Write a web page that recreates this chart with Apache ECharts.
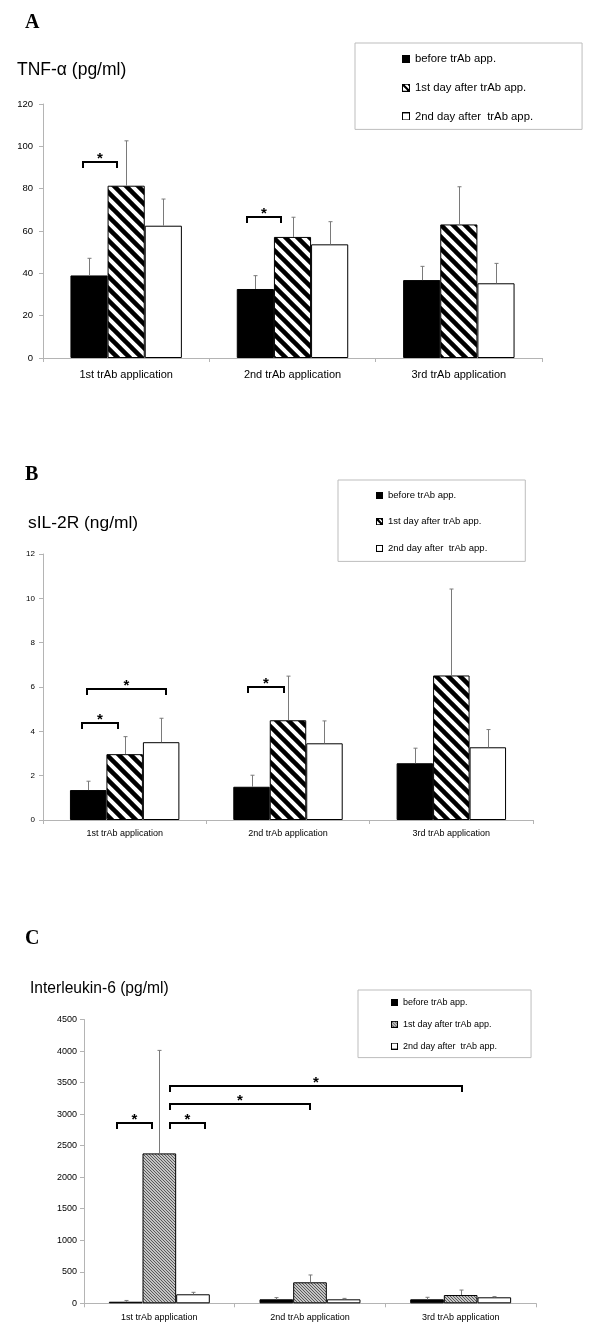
<!DOCTYPE html>
<html>
<head>
<meta charset="utf-8">
<script src="https://cdn.jsdelivr.net/npm/echarts@6/dist/echarts.min.js"></script>
<style>
html, body { margin: 0; padding: 0; background: #fff; }
#chart { width: 600px; height: 1332px; }
</style>
</head>
<body>
<div id="chart"></div>
<script>
var categories = ['1st trAb application', '2nd trAb application', '3rd trAb application'];
var seriesNames = ['before trAb app.', '1st day after trAb app.', '2nd day after  trAb app.'];

// A: TNF-alpha (pg/ml), means and upper error
var tnfBefore = [39.0, 32.6, 36.8];
var tnfDay1 = [81.4, 57.2, 63.1];
var tnfDay2 = [62.5, 53.7, 35.3];
var tnfBeforeErr = [8.1, 6.3, 6.5];
var tnfDay1Err = [21.2, 9.3, 17.8];
var tnfDay2Err = [12.6, 10.7, 9.4];
var tnfTicks = [0, 20, 40, 60, 80, 100, 120];

// B: sIL-2R (ng/ml)
var il2Before = [1.35, 1.50, 2.56];
var il2Day1 = [2.97, 4.50, 6.52];
var il2Day2 = [3.51, 3.46, 3.28];
var il2BeforeErr = [0.40, 0.52, 0.68];
var il2Day1Err = [0.79, 1.99, 3.90];
var il2Day2Err = [1.08, 1.01, 0.80];
var il2Ticks = [0, 2, 4, 6, 8, 10, 12];

// C: Interleukin-6 (pg/ml)
var il6Before = [25, 63, 63];
var il6Day1 = [2377, 333, 131];
var il6Day2 = [143, 63, 95];
var il6BeforeErr = [20, 27, 32];
var il6Day1Err = [1633, 116, 79];
var il6Day2Err = [31, 15, 11];
var il6Ticks = [0, 500, 1000, 1500, 2000, 2500, 3000, 3500, 4000, 4500];

// significance brackets: [fromCat, fromSlot, toCat, toSlot, level]
var tnfSig = [[0, 0.34, 0, 1.24, 92.7], [1, 0.28, 1, 1.18, 66.7]];
var il2Sig = [[0, 0.34, 0, 1.32, 4.39], [0, 0.48, 0, 2.63, 5.89], [1, 0.40, 1, 1.38, 5.98]];
var il6Sig = [[0, 0.24, 0, 1.28, 2853], [0, 1.81, 0, 2.86, 2853], [0, 1.81, 1, 1.49, 3154], [0, 1.81, 2, 1.54, 3444]];

function stripes() {
    var s = 12, c = document.createElement('canvas');
    c.width = s; c.height = s;
    var g = c.getContext('2d');
    g.fillStyle = '#fff'; g.fillRect(0, 0, s, s);
    g.strokeStyle = '#000'; g.lineWidth = 4.5;
    for (var i = -1; i <= 1; i++) {
        g.beginPath(); g.moveTo(i * s - s, -s); g.lineTo(i * s + 2 * s, 2 * s); g.stroke();
    }
    return c;
}
function fineHatch() {
    var s = 3, c = document.createElement('canvas');
    c.width = s; c.height = s;
    var g = c.getContext('2d');
    g.fillStyle = '#c4c4c4'; g.fillRect(0, 0, s, s);
    g.fillStyle = '#5a5a5a';
    for (var i = 0; i < s; i++) g.fillRect(i, i, 1, 1);
    return c;
}
// small legend icons, drawn pixel by pixel
function legendIcon(kind, n) {
    var c = document.createElement('canvas');
    c.width = n; c.height = n;
    var g = c.getContext('2d');
    g.fillStyle = kind === 'grey' ? '#bdbdbd' : '#fff';
    g.fillRect(0, 0, n, n);
    g.fillStyle = '#000';
    if (kind === 'black') g.fillRect(0, 0, n, n);
    if (kind === 'stripe') {
        for (var y = 0; y < n; y++) for (var x = 0; x < n; x++) {
            if (Math.abs(x - y) <= 1 || x - y >= n - 3) g.fillRect(x, y, 1, 1);
        }
    }
    if (kind === 'grey') {
        g.fillStyle = '#666';
        for (var y2 = 0; y2 < n; y2++) for (var x2 = 0; x2 < n; x2++) {
            if ((x2 - y2 + 9) % 3 === 0) g.fillRect(x2, y2, 1, 1);
        }
        g.fillStyle = '#000';
    }
    g.fillRect(0, 0, n, 1); g.fillRect(0, n - 1, n, 1);
    g.fillRect(0, 0, 1, n); g.fillRect(n - 1, 0, 1, n);
    return 'image://' + c.toDataURL();
}

var blackFill = '#000', whiteFill = '#fff';
var stripeFill = { image: stripes(), repeat: 'repeat' };
var greyFill = { image: fineHatch(), repeat: 'repeat' };

var panels = [
    { key: 'A', title: 'TNF-α (pg/ml)', values: [tnfBefore, tnfDay1, tnfDay2], errs: [tnfBeforeErr, tnfDay1Err, tnfDay2Err],
      ticks: tnfTicks, sig: tnfSig, fills: [blackFill, stripeFill, whiteFill], icons: ['black', 'stripe', 'white'],
      grid: { left: 43, right: 58, top: 104, bottom: 974 },
      tickFont: 9.5, tickMargin: 10, catFont: 11, catMargin: 11,
      letter: { left: 25, top: 13 }, head: { left: 17, top: 61, size: 17.5 },
      legend: { left: 355, top: 43, font: 11.3, lh: 14, gap: 14.7, pad: [9, 49, 6, 47], icon: 8 } },
    { key: 'B', title: 'sIL-2R (ng/ml)', values: [il2Before, il2Day1, il2Day2], errs: [il2BeforeErr, il2Day1Err, il2Day2Err],
      ticks: il2Ticks, sig: il2Sig, fills: [blackFill, stripeFill, whiteFill], icons: ['black', 'stripe', 'white'],
      grid: { left: 43, right: 67, top: 554, bottom: 512 },
      tickFont: 8, tickMargin: 8, catFont: 9, catMargin: 9,
      letter: { left: 25, top: 465 }, head: { left: 28, top: 514, size: 17.4 },
      legend: { left: 338, top: 480, font: 9.5, lh: 12, gap: 14.7, pad: [9, 38, 7, 38], icon: 7 } },
    { key: 'C', title: 'Interleukin-6 (pg/ml)', values: [il6Before, il6Day1, il6Day2], errs: [il6BeforeErr, il6Day1Err, il6Day2Err],
      ticks: il6Ticks, sig: il6Sig, fills: [blackFill, greyFill, whiteFill], icons: ['black', 'grey', 'white'],
      grid: { left: 84, right: 64, top: 1019.5, bottom: 28.7 },
      tickFont: 9, tickMargin: 7, catFont: 9, catMargin: 10,
      letter: { left: 25, top: 929 }, head: { left: 30, top: 979.5, size: 15.6 },
      legend: { left: 358, top: 990, font: 9, lh: 11, gap: 10.8, pad: [7, 34, 6, 33], icon: 7 } }
];

var axisGrey = '#b4b4b4';
var font = 'Liberation Sans';

function errRender(params, api) {
    var cat = api.value(0), k = api.value(1), v = api.value(2), e = api.value(3);
    var bw = api.size([1, 0])[0] * (1 - 0.33) / 3;
    var base = api.coord([cat, v]);
    var top = api.coord([cat, v + e]);
    var x = Math.round(base[0] + (k - 1) * bw) + 0.5;
    var st = { stroke: '#7a7a7a', lineWidth: 1 };
    return { type: 'group', children: [
        { type: 'line', shape: { x1: x, y1: base[1], x2: x, y2: top[1] }, style: st },
        { type: 'line', shape: { x1: x - 2, y1: top[1], x2: x + 2, y2: top[1] }, style: st }
    ] };
}

function sigRender(params, api) {
    var bw = api.size([1, 0])[0] * (1 - 0.33) / 3;
    var lvl = api.value(4);
    var p0 = api.coord([api.value(0), lvl]);
    var p1 = api.coord([api.value(2), lvl]);
    var x0 = Math.round(p0[0] + (api.value(1) - 1.5) * bw);
    var x1 = Math.round(p1[0] + (api.value(3) - 1.5) * bw);
    var y = Math.round(p0[1]);
    return { type: 'group', children: [
        { type: 'polyline', shape: { points: [[x0, y + 6], [x0, y], [x1, y], [x1, y + 6]] },
          style: { stroke: '#000', lineWidth: 2, fill: null } },
        { type: 'text', x: (x0 + x1) / 2, y: y - 3,
          style: { text: '*', font: 'bold 15px Liberation Sans', fill: '#000',
                   textAlign: 'center', textVerticalAlign: 'middle', align: 'center', verticalAlign: 'middle' } }
    ] };
}

var option = { animation: false, title: [], legend: [], grid: [], xAxis: [], yAxis: [], series: [] };

panels.forEach(function (p, pi) {
    option.title.push({ text: p.key, left: p.letter.left, top: p.letter.top, padding: 0,
        textStyle: { fontFamily: 'Liberation Serif', fontWeight: 'bold', fontSize: 20, lineHeight: 20, color: '#000' } });
    option.title.push({ text: p.title, left: p.head.left, top: p.head.top, padding: 0,
        textStyle: { fontFamily: font, fontWeight: 'normal', fontSize: p.head.size, lineHeight: 18, color: '#000' } });

    option.grid.push({ left: p.grid.left, right: p.grid.right, top: p.grid.top, bottom: p.grid.bottom,
        containLabel: false, outerBoundsMode: 'none' });

    option.xAxis.push({ type: 'category', gridIndex: pi, data: categories,
        axisLine: { lineStyle: { color: axisGrey, width: 1 } },
        axisTick: { show: true, length: 4, lineStyle: { color: axisGrey } },
        axisLabel: { color: '#000', fontFamily: font, fontSize: p.catFont, margin: p.catMargin, interval: 0 } });

    var tmax = p.ticks[p.ticks.length - 1];
    option.yAxis.push({ type: 'value', gridIndex: pi, min: p.ticks[0], max: tmax, interval: p.ticks[1] - p.ticks[0],
        splitLine: { show: false },
        axisLine: { show: true, lineStyle: { color: axisGrey, width: 1 } },
        axisTick: { show: true, length: 4, lineStyle: { color: axisGrey } },
        axisLabel: { color: '#000', fontFamily: font, fontSize: p.tickFont, margin: p.tickMargin,
                     formatter: function (v) { return String(v); } } });

    var legendData = [];
    var errData = [];
    p.values.forEach(function (vals, k) {
        var nm = p.key + '|' + seriesNames[k];
        legendData.push({ name: nm, icon: legendIcon(p.icons[k], p.legend.icon) });
        option.series.push({ type: 'bar', name: nm, xAxisIndex: pi, yAxisIndex: pi, data: vals,
            barGap: '0%', barCategoryGap: '33%',
            itemStyle: { color: p.fills[k], borderColor: '#000', borderWidth: 1 } });
        vals.forEach(function (v, c) { errData.push([c, k, v, p.errs[k][c]]); });
    });
    option.series.push({ type: 'custom', name: p.key + '-err', xAxisIndex: pi, yAxisIndex: pi,
        renderItem: errRender, data: errData, z: 5, silent: true });
    option.series.push({ type: 'custom', name: p.key + '-sig', xAxisIndex: pi, yAxisIndex: pi,
        renderItem: sigRender, data: p.sig, z: 6, silent: true, clip: false });

    option.legend.push({ data: legendData, orient: 'vertical', left: p.legend.left, top: p.legend.top,
        padding: p.legend.pad, itemGap: p.legend.gap, itemWidth: p.legend.icon, itemHeight: p.legend.icon,
        borderColor: '#bdbdbd', borderWidth: 1, selectedMode: false,
        formatter: function (n) { return n.split('|')[1]; },
        textStyle: { color: '#000', fontFamily: font, fontSize: p.legend.font, lineHeight: p.legend.lh } });
});

var chart = echarts.init(document.getElementById('chart'));
chart.setOption(option);
</script>
</body>
</html>
